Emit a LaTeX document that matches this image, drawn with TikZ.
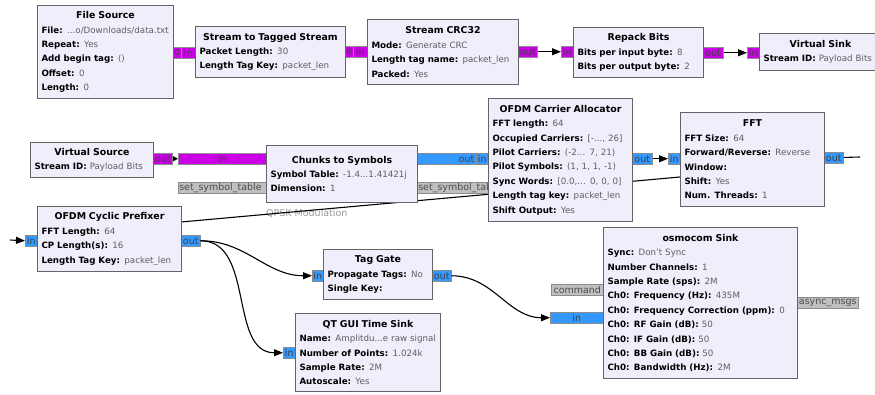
\documentclass[tikz,border=0pt]{standalone}
\usepackage{fontspec}
\setmainfont{DejaVu Sans}
\usetikzlibrary{arrows.meta}
\definecolor{blkfill}{RGB}{240,238,250}
\definecolor{blkline}{RGB}{100,100,100}
\definecolor{bytecol}{RGB}{204,0,230}
\definecolor{cpxcol}{RGB}{51,153,255}
\definecolor{msgcol}{RGB}{192,192,192}
\definecolor{valcol}{RGB}{95,95,95}
\setlength{\parindent}{0pt}
\newcommand{\ttl}[1]{{\centering\bfseries\fontsize{9.4}{14.4}\selectfont #1\par}}
\newcommand{\kv}[2]{\par\mbox{\textbf{#1:} \textcolor{valcol}{#2}}}

\begin{document}
\begin{tikzpicture}[x=1pt, y=-1pt]
\tikzset{blk/.style={draw=blkline, fill=blkfill, line width=1pt, anchor=north west, inner xsep=4pt, inner ysep=0pt, align=left, font=\fontsize{8.7}{14.4}\selectfont}}
\tikzset{port/.style={draw=black!45, line width=0.5pt, anchor=north west, inner sep=0pt, minimum height=11pt, text=black!75, font=\fontsize{9.5}{9}\selectfont}}
\tikzset{byteport/.style={port, fill=bytecol}, cpxport/.style={port, fill=cpxcol}, msgport/.style={port, fill=msgcol, text=black!70}}
\tikzset{conn/.style={draw=black, line width=1.1pt, -{Triangle[length=9pt,width=7pt]}}, wire/.style={draw=black, line width=1.1pt}}
\fill[white] (0,0) rectangle (875,394);
\useasboundingbox (0,0) rectangle (875,394);
\clip (0,0) rectangle (875,394);

% free ends
\coordinate (fftend) at (860,157);
\coordinate (wrapa) at (181,222);
\coordinate (wrapb) at (680,177);
\coordinate (cpstart) at (10,240);

\node[anchor=north west, inner sep=0pt, text=black!40, font=\fontsize{9.5}{9}\selectfont] (qpsk) at (266,209) {QPSK Modulation};

% connections
\draw[wire] (wrapa) -- (wrapb);
\draw[wire] (fftend) -- (822,158);

% ports
\node[byteport, minimum width=8pt] (fsrc-out) at (173,47) {o};
\node[byteport, minimum width=14pt] (s2ts-in) at (181,47) {in};
\node[byteport, minimum width=8pt] (s2ts-out) at (345,46) {o};
\node[byteport, minimum width=14pt] (crc-in) at (353,46) {in};
\node[byteport, minimum width=19pt] (crc-out) at (518,46) {out};
\node[byteport, minimum width=12pt] (repack-in) at (561,46) {in};
\node[byteport, minimum width=20pt] (repack-out) at (703,47) {out};
\node[byteport, minimum width=12pt] (vsink-in) at (747,47) {in};
\node[byteport, minimum width=19pt] (vsrc-out) at (153,153) {out};
\node[byteport, minimum width=88pt] (chunks-in) at (178,153) {in};
\node[cpxport, text width=55pt, align=right, inner xsep=2pt] (chunks-out) at (417,153) {out};
\node[cpxport, minimum width=12pt] (alloc-in) at (476,153) {in};
\node[msgport, text width=86pt, align=left, inner xsep=1pt] (chunks-sym) at (178,182) {set\_symbol\_table};
\node[msgport, text width=88pt, align=left, inner xsep=1pt] (alloc-sym) at (417,182) {set\_symbol\_table};
\node[cpxport, minimum width=20pt] (alloc-out) at (632,153) {out};
\node[cpxport, minimum width=12pt] (fft-in) at (668,153) {in};
\node[cpxport, minimum width=19pt] (fft-out) at (824,152) {out};
\node[cpxport, minimum width=12pt] (cp-in) at (25,235) {in};
\node[cpxport, minimum width=19pt] (cp-out) at (181,235) {out};
\node[cpxport, minimum width=11pt] (tgate-in) at (312,270) {in};
\node[cpxport, minimum width=19pt] (tgate-out) at (432,270) {out};
\node[cpxport, minimum width=12pt] (qt-in) at (283,347) {in};
\node[cpxport, minimum width=53pt] (osmo-in) at (550,312) {in};
\node[msgport, minimum width=52pt] (osmo-cmd) at (551,284) {command};
\node[msgport, minimum width=61pt] (osmo-async) at (797,297) {async\_msgs};

\draw[conn] (crc-out.east) -- (repack-in.west);
\draw[conn] (repack-out.east) -- (vsink-in.west);
\draw[wire, -{Triangle[length=5pt,width=5pt]}] (vsrc-out.east) -- (chunks-in.west);
\draw[conn] (alloc-out.east) -- (fft-in.west);
\draw[conn] (cpstart) -- (cp-in.west);
\draw[conn] (cp-out.east) to[out=0, in=180] (tgate-in.west);
\draw[conn] (cp-out.east) to[out=0, in=180] (qt-in.west);
\draw[conn] (tgate-out.east) to[out=0, in=180] (osmo-in.west);

% blocks
\node[blk, text width=128pt, minimum height=93pt] (fsrc) at (37,5) {\ttl{File Source}\kv{File}{...o/Downloads/data.txt}\kv{Repeat}{Yes}\kv{Add begin tag}{()}\kv{Offset}{0}\kv{Length}{0}};
\node[blk, text width=142pt, minimum height=51pt] (s2ts) at (195,26) {\ttl{Stream to Tagged Stream}\kv{Packet Length}{30}\kv{Length Tag Key}{packet\_len}};
\node[blk, text width=143pt, minimum height=65pt] (crc) at (367,19) {\ttl{Stream CRC32}\kv{Mode}{Generate CRC}\kv{Length tag name}{packet\_len}\kv{Packed}{Yes}};
\node[blk, text width=122pt, minimum height=50pt] (repack) at (573,27) {\ttl{Repack Bits}\kv{Bits per input byte}{8}\kv{Bits per output byte}{2}};
\node[blk, text width=114pt, minimum height=37pt] (vsink) at (759,33) {\ttl{Virtual Sink}\kv{Stream ID}{Payload Bits}};
\node[blk, text width=115pt, minimum height=35pt] (vsrc) at (30,142) {\ttl{Virtual Source}\kv{Stream ID}{Payload Bits}};
\node[blk, text width=143pt, minimum height=57pt] (chunks) at (266,145) {\ttl{Chunks to Symbols}\kv{Symbol Table}{-1.4...1.41421j}\kv{Dimension}{1}};
\node[blk, text width=136pt, minimum height=123pt] (alloc) at (488,98) {\ttl{OFDM Carrier Allocator}\kv{FFT length}{64}\kv{Occupied Carriers}{[-..., 26]}\kv{Pilot Carriers}{(-2... 7, 21)}\kv{Pilot Symbols}{(1, 1, 1, -1)}\kv{Sync Words}{[0.0,... 0, 0, 0]}\kv{Length tag key}{packet\_len}\kv{Shift Output}{Yes}};
\node[blk, text width=136pt, minimum height=94pt] (fft) at (680,112) {\ttl{FFT}\kv{FFT Size}{64}\kv{Forward/Reverse}{Reverse}\kv{Window}{}\kv{Shift}{Yes}\kv{Num. Threads}{1}};
\node[blk, text width=136pt, minimum height=65pt] (cp) at (37,206) {\ttl{OFDM Cyclic Prefixer}\kv{FFT Length}{64}\kv{CP Length(s)}{16}\kv{Length Tag Key}{packet\_len}};
\node[blk, text width=101pt, minimum height=50pt] (tgate) at (323,249) {\ttl{Tag Gate}\kv{Propagate Tags}{No}\kv{Single Key}{}};
\node[blk, text width=137pt, minimum height=78pt] (qt) at (295,313) {\ttl{QT GUI Time Sink}\kv{Name}{Amplitdu...e raw signal}\kv{Number of Points}{1.024k}\kv{Sample Rate}{2M}\kv{Autoscale}{Yes}};
\node[blk, text width=186pt, minimum height=151pt] (osmo) at (603,227) {\ttl{osmocom Sink}\kv{Sync}{Don't Sync}\kv{Number Channels}{1}\kv{Sample Rate (sps)}{2M}\kv{Ch0: Frequency (Hz)}{435M}\kv{Ch0: Frequency Correction (ppm)}{0}\kv{Ch0: RF Gain (dB)}{50}\kv{Ch0: IF Gain (dB)}{50}\kv{Ch0: BB Gain (dB)}{50}\kv{Ch0: Bandwidth (Hz)}{2M}};
\end{tikzpicture}
\end{document}
